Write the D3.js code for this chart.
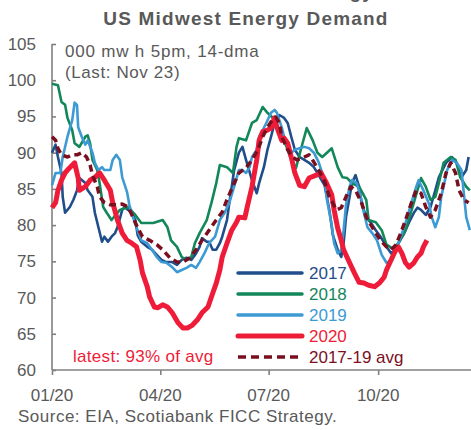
<!DOCTYPE html>
<html>
<head>
<meta charset="utf-8">
<script src="https://cdn.jsdelivr.net/npm/d3@7"></script>
<style>
  body { margin: 0; background: #fff; }
  text { font-family: "Liberation Sans", Arial, sans-serif; }
</style>
</head>
<body>
<div id="chart"></div>
<script>
'use strict';

// [day of year, value]  (000 mwh, 5pm, 14-dma)
const series2017 = [[0,90.0],[3,91.1],[5,89.4],[8,87.2],[9,83.9],[11,81.7],[15,82.5],[18,83.5],[21,84.8],[23,86.5],[28,85.8],[30,84.8],[34,83.9],[36,81.7],[39,79.7],[42,77.7],[44,78.4],[47,77.7],[50,78.4],[53,78.9],[55,79.7],[59,82.1],[61,82.5],[64,82.1],[67,81.7],[70,80.7],[72,78.6],[75,77.7],[80,77.0],[84,76.6],[88,75.9],[92,75.2],[96,74.9],[101,74.9],[105,74.5],[109,75.2],[113,75.5],[117,75.2],[121,76.1],[124,77.0],[126,78.2],[130,77.7],[132,77.7],[135,76.6],[138,76.6],[141,77.5],[143,78.4],[147,80.7],[149,83.1],[151,85.3],[153,87.6],[157,90.0],[160,90.8],[163,89.0],[168,86.2],[172,84.4],[174,85.8],[178,88.0],[181,90.4],[184,92.2],[187,94.1],[191,95.2],[195,94.8],[198,94.1],[201,92.2],[204,90.4],[208,89.4],[212,89.0],[216,88.6],[220,88.0],[224,86.9],[229,85.5],[233,82.1],[236,78.6],[240,76.6],[243,75.6],[245,77.5],[247,81.1],[250,83.9],[252,85.8],[255,86.9],[258,85.3],[260,83.1],[264,81.1],[268,80.3],[272,79.3],[276,78.4],[281,77.0],[285,76.1],[289,76.6],[291,77.5],[296,78.9],[300,80.4],[304,81.7],[307,82.4],[310,82.1],[314,81.4],[318,82.5],[322,84.8],[325,86.6],[331,88.6],[336,89.4],[340,88.6],[344,86.6],[348,87.6],[350,89.4]];

const series2018 = [[0,99.5],[5,99.3],[8,97.0],[11,96.6],[13,94.8],[17,93.1],[19,91.3],[23,90.8],[28,92.2],[30,92.4],[32,91.3],[34,89.0],[38,87.6],[40,85.8],[43,82.5],[46,81.7],[50,80.7],[57,82.1],[64,82.5],[70,81.4],[75,80.3],[85,80.3],[93,80.7],[97,79.7],[100,77.9],[105,77.0],[109,75.6],[113,75.2],[117,75.6],[120,77.5],[124,78.9],[130,80.7],[134,83.1],[138,85.8],[141,88.3],[147,88.0],[152,87.2],[155,90.8],[157,92.0],[163,91.7],[168,94.1],[172,94.5],[177,96.3],[181,95.5],[185,94.9],[189,93.4],[193,92.4],[197,90.8],[201,89.0],[205,87.9],[209,90.4],[214,93.4],[219,91.7],[223,90.0],[227,89.4],[231,90.0],[235,90.6],[240,88.0],[244,86.6],[248,86.5],[252,85.8],[258,85.3],[264,83.5],[266,80.7],[272,80.4],[277,79.3],[281,77.3],[286,76.8],[291,77.5],[297,79.3],[304,83.1],[310,86.5],[314,85.3],[318,83.5],[322,83.9],[325,85.8],[329,88.6],[335,89.4],[339,89.0],[343,86.6],[348,85.3],[351,84.8]];

const series2019 = [[0,85.5],[3,87.2],[7,87.2],[9,89.4],[13,92.2],[17,94.5],[19,96.9],[21,96.6],[22,93.5],[25,92.2],[28,91.1],[30,91.7],[34,90.0],[36,88.6],[39,87.6],[42,88.0],[44,87.6],[49,87.6],[51,89.0],[54,89.7],[57,89.0],[59,86.6],[63,84.6],[65,82.8],[68,81.1],[71,79.7],[75,77.9],[80,77.5],[84,76.6],[88,75.6],[92,74.9],[96,74.8],[101,74.2],[105,73.5],[109,73.8],[113,74.1],[117,74.5],[121,74.1],[124,74.9],[128,76.1],[132,77.5],[137,78.4],[141,80.7],[145,81.7],[149,83.1],[153,85.3],[157,87.6],[160,87.6],[163,87.2],[166,88.0],[168,89.4],[172,90.4],[174,92.2],[177,93.1],[180,94.1],[184,95.5],[187,95.9],[189,95.5],[193,93.5],[195,92.2],[198,90.8],[201,90.0],[204,90.4],[208,90.6],[212,90.8],[216,90.6],[220,90.0],[224,88.7],[229,86.2],[231,83.5],[235,80.0],[237,77.5],[240,76.1],[243,76.6],[245,79.3],[247,82.8],[250,85.3],[252,86.2],[256,85.8],[260,83.5],[262,81.7],[265,79.7],[269,78.9],[273,77.9],[277,75.9],[281,74.8],[286,75.2],[289,76.6],[293,78.4],[297,80.3],[302,83.1],[306,85.3],[308,86.2],[312,84.8],[317,82.8],[319,81.1],[322,79.7],[325,81.1],[327,83.9],[332,87.6],[336,89.0],[340,88.6],[344,87.6],[348,81.1],[351,79.3]];

const series2020 = [[0,82.4],[3,83.1],[5,84.8],[8,86.2],[11,87.2],[13,87.6],[19,88.6],[22,86.5],[23,84.8],[28,85.3],[32,86.2],[36,86.6],[40,87.2],[44,86.2],[49,84.8],[51,83.1],[55,80.7],[59,78.9],[63,77.9],[67,77.5],[71,77.0],[74,75.2],[76,73.4],[80,71.5],[82,70.1],[86,68.7],[89,68.6],[93,69.0],[97,68.7],[101,67.9],[106,66.5],[110,65.8],[114,65.8],[118,66.2],[122,66.9],[126,67.9],[131,68.7],[135,70.6],[138,72.0],[141,73.8],[143,75.6],[147,77.5],[151,79.3],[155,80.4],[157,81.1],[162,81.0],[164,82.5],[168,85.3],[172,89.0],[174,91.7],[177,92.9],[181,93.1],[184,93.4],[187,94.8],[189,93.5],[193,91.7],[195,92.0],[198,91.3],[201,89.4],[204,87.2],[208,85.5],[212,85.3],[216,86.5],[222,86.9],[226,87.2],[230,86.0],[235,84.2],[237,82.1],[240,79.6],[243,77.9],[245,76.6],[250,74.8],[254,73.4],[258,72.1],[262,72.0],[266,71.7],[271,71.5],[275,72.0],[279,72.8],[281,73.8],[286,75.6],[289,76.6],[291,77.0],[294,76.1],[297,74.8],[300,74.2],[304,74.8],[307,75.6],[310,76.1],[312,77.0],[315,77.9]];

const seriesAvg = [[0,92.2],[3,91.7],[5,90.6],[8,89.7],[13,89.4],[17,89.7],[21,89.7],[25,90.0],[29,89.4],[32,88.3],[34,86.9],[38,85.3],[40,83.9],[44,83.1],[49,82.8],[54,82.8],[59,82.9],[64,82.5],[68,81.1],[72,79.6],[76,78.4],[82,77.9],[88,77.3],[93,76.6],[99,75.5],[105,74.9],[110,74.9],[116,75.5],[121,76.6],[126,77.9],[132,79.3],[138,80.7],[143,81.8],[147,83.5],[152,85.4],[157,87.2],[163,87.9],[168,89.0],[173,90.4],[177,92.2],[181,93.5],[185,94.5],[188,94.9],[191,94.1],[193,92.2],[198,90.4],[202,89.4],[206,89.0],[212,89.4],[216,89.7],[220,88.7],[224,87.6],[229,86.0],[233,83.9],[239,82.1],[243,82.4],[247,83.9],[251,85.3],[255,84.8],[260,83.1],[264,81.1],[268,80.0],[272,78.9],[276,77.9],[281,77.0],[285,76.6],[289,77.3],[293,78.9],[297,80.7],[302,83.1],[306,84.8],[310,84.4],[314,82.5],[318,81.1],[322,82.1],[327,84.4],[331,87.2],[335,88.6],[339,87.2],[342,84.8],[346,83.5],[350,83.1]];

const yTicks = [60, 65, 70, 75, 80, 85, 90, 95, 100, 105];
const xTickDates = ['2020-01-01', '2020-04-01', '2020-07-01', '2020-10-01'];
const legendLabels = ['2017', '2018', '2019', '2020', '2017-19 avg'];

let width = 471, height = 430;
let grey = '#595959';

let svg = d3.select('#chart').append('svg')
    .attr('width', width)
    .attr('height', height);

let toDate = d => new Date(2020, 0, 1 + d);

let x = d3.scaleTime()
    .domain([new Date(2020, 0, 1), new Date(2020, 0, 353)])
    .range([52, 471]);

let y = d3.scaleLinear()
    .domain([60, 105])
    .range([370, 44]);

let lines = [
    {name: legendLabels[0], data: series2017, color: '#1f4e8a', width: 2.6},
    {name: legendLabels[1], data: series2018, color: '#12875a', width: 2.6},
    {name: legendLabels[2], data: series2019, color: '#3d9ad3', width: 2.6},
    {name: legendLabels[3], data: series2020, color: '#ee1c38', width: 5},
    {name: legendLabels[4], data: seriesAvg, color: '#7a0f1f', width: 3.5, dash: '7,4.5'}
];

//title
svg.append('text')
    .attr('x', 374).attr('y', -2)
    .attr('text-anchor', 'end')
    .attr('font-size', 19).attr('font-weight', 'bold')
    .attr('letter-spacing', 1.2)
    .attr('fill', grey)
    .text('Energy');

svg.append('text')
    .attr('x', 246).attr('y', 25)
    .attr('text-anchor', 'middle')
    .attr('font-size', 19).attr('font-weight', 'bold')
    .attr('letter-spacing', 1.2)
    .attr('fill', grey)
    .text('US Midwest Energy Demand');

//axes
let yAxis = svg.append('g')
    .attr('transform', 'translate(52,0)')
    .call(d3.axisRight(y).tickValues(yTicks).tickSize(4).tickFormat(''));

let xAxis = svg.append('g')
    .attr('transform', 'translate(0,370)')
    .call(d3.axisBottom(x).tickValues(xTickDates.map(d => new Date(d + 'T00:00'))).tickSize(5).tickFormat(''));

[yAxis, xAxis].forEach(a => {
    a.selectAll('path, line').attr('stroke', '#808080').attr('stroke-width', 1.6);
});
yAxis.select('.domain').attr('d', 'M0,' + y(105) + 'V' + y(60));
xAxis.select('.domain').attr('d', 'M52,0H' + width);

svg.append('g')
    .selectAll('text')
    .data(yTicks)
    .enter()
    .append('text')
    .attr('x', 36)
    .attr('y', d => y(d) + 6)
    .attr('text-anchor', 'end')
    .attr('font-size', 17)
    .attr('fill', grey)
    .text(d => d);

svg.append('g')
    .selectAll('text')
    .data(xTickDates)
    .enter()
    .append('text')
    .attr('x', d => x(new Date(d + 'T00:00')))
    .attr('y', 401)
    .attr('text-anchor', 'middle')
    .attr('font-size', 17)
    .attr('fill', grey)
    .text(d => d3.timeFormat('%m/%y')(new Date(d + 'T00:00')));

//notes
svg.append('text')
    .attr('x', 65).attr('y', 57)
    .attr('font-size', 17).attr('letter-spacing', 0.8)
    .attr('fill', grey)
    .text('000 mw h 5pm, 14-dma');

svg.append('text')
    .attr('x', 65).attr('y', 78)
    .attr('font-size', 17).attr('letter-spacing', 0.6)
    .attr('fill', grey)
    .text('(Last: Nov 23)');

svg.append('text')
    .attr('x', 18).attr('y', 422)
    .attr('font-size', 17).attr('letter-spacing', 0.5)
    .attr('fill', grey)
    .text('Source: EIA, Scotiabank FICC Strategy.');

//series
let line = d3.line()
    .x(d => x(toDate(d[0])))
    .y(d => y(d[1]));

svg.append('g')
    .selectAll('path')
    .data(lines)
    .enter()
    .append('path')
    .attr('fill', 'none')
    .attr('stroke', d => d.color)
    .attr('stroke-width', d => d.width)
    .attr('stroke-dasharray', d => d.dash || null)
    .attr('stroke-linejoin', 'round')
    .attr('d', d => line(d.data));

svg.append('text')
    .attr('x', 73).attr('y', 362)
    .attr('font-size', 17).attr('letter-spacing', 0.3)
    .attr('fill', '#ee1c38')
    .text('latest: 93% of avg');

//legend
let legend = svg.append('g')
    .selectAll('g')
    .data(lines)
    .enter()
    .append('g')
    .attr('transform', (d, i) => 'translate(238,' + (273 + i * 21) + ')');

legend.append('line')
    .attr('x1', 0).attr('x2', 64)
    .attr('stroke', d => d.color)
    .attr('stroke-width', d => d.dash ? 3.5 : (d.width > 3 ? 5 : 3.5))
    .attr('stroke-dasharray', d => d.dash ? '8,5' : null)
    .attr('stroke-linecap', d => d.dash ? 'butt' : 'round');

legend.append('text')
    .attr('x', 71).attr('y', 6)
    .attr('font-size', 17)
    .attr('fill', d => d.color)
    .text(d => d.name);
</script>
</body>
</html>
